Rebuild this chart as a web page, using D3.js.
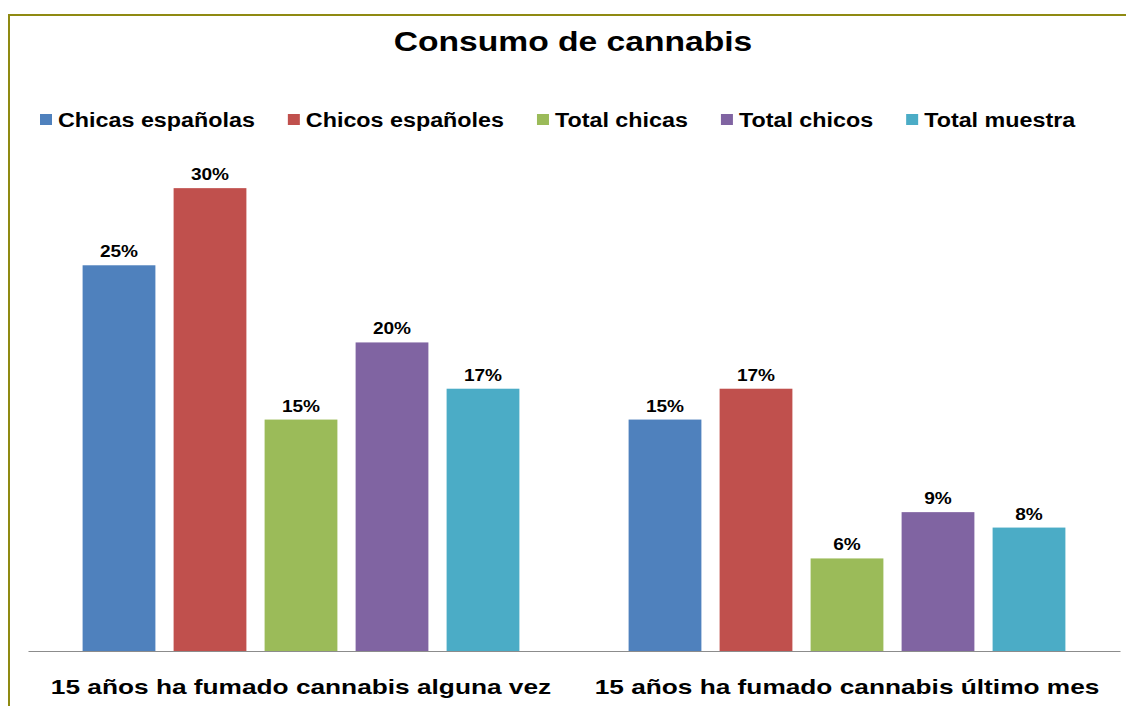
<!DOCTYPE html>
<html>
<head>
<meta charset="utf-8">
<script src="https://d3js.org/d3.v7.min.js"></script>
<style>
body {margin:0; background:#fff;}
text {font-family:"Liberation Sans", Arial, sans-serif; font-weight:bold; fill:#000;}
</style>
</head>
<body>
<svg width=1126 height=706></svg>
<script>
const categories = ["15 años ha fumado cannabis alguna vez", "15 años ha fumado cannabis último mes"];
const series = ["Chicas españolas", "Chicos españoles", "Total chicas", "Total chicos", "Total muestra"];
const colors = ["#4F81BD", "#C0504D", "#9BBB59", "#8064A2", "#4BACC6"];
const alguna = [25, 30, 15, 20, 17];
const ultimo = [15, 17, 6, 9, 8];
const values = [alguna, ultimo];

const svg = d3.select("svg");

// stretch text horizontally, the source picture is wider than normal Arial
function stretch(sel, k) {
    sel.each(function() {
        const w = this.getComputedTextLength();
        d3.select(this).attr("textLength", w * k).attr("lengthAdjust", "spacingAndGlyphs");
    });
    return sel;
}

// frame
svg.append("path")
    .attr("d", "M9,706 V15 H1126")
    .attr("fill", "none")
    .attr("stroke", "#8f8a12")
    .attr("stroke-width", 2);

const x0 = d3.scaleBand()
    .domain(categories)
    .range([28, 1120]);

const x1 = d3.scaleBand()
    .domain(series)
    .range([0, x0.bandwidth()])
    .paddingInner(0.2)
    .paddingOuter(0.6);

const y = d3.scaleLinear()
    .domain([0, 35])
    .range([651, 111]);

const groups = svg.selectAll("g.grp")
    .data(categories)
    .enter().append("g")
    .attr("class", "grp")
    .attr("transform", d => `translate(${x0(d)},0)`);

groups.selectAll("rect")
    .data((d, i) => values[i].map((v, j) => ({s: series[j], v: v, c: colors[j]})))
    .enter().append("rect")
    .attr("x", d => x1(d.s))
    .attr("y", d => y(d.v))
    .attr("width", x1.bandwidth())
    .attr("height", d => y(0) - y(d.v))
    .attr("fill", d => d.c);

stretch(groups.selectAll("text.val")
    .data((d, i) => values[i].map((v, j) => ({s: series[j], v: v})))
    .enter().append("text")
    .attr("class", "val")
    .attr("x", d => x1(d.s) + x1.bandwidth() / 2)
    .attr("y", d => y(d.v) - 8)
    .attr("text-anchor", "middle")
    .style("font-size", "16px")
    .text(d => d.v + "%"), 1.19);

// baseline and category labels
const xAxis = d3.axisBottom(x0).tickSize(0).tickPadding(28);
const ax = svg.append("g")
    .attr("transform", `translate(0,${y(0)})`)
    .call(xAxis);
ax.select(".domain").attr("stroke", "#8c8c8c").attr("stroke-width", 1.2);
stretch(ax.selectAll(".tick text")
    .attr("font-family", null)
    .attr("fill", "#000")
    .style("font-size", "21px"), 1.25);

// title
stretch(svg.append("text")
    .attr("x", 573)
    .attr("y", 51)
    .attr("text-anchor", "middle")
    .style("font-size", "28px")
    .text("Consumo de cannabis"), 1.2);

// legend
const legend = svg.append("g").attr("transform", "translate(40,127)");
let lx = 0;
series.forEach((s, i) => {
    const item = legend.append("g").attr("transform", `translate(${lx},0)`);
    item.append("rect")
        .attr("x", 0).attr("y", -13)
        .attr("width", 12).attr("height", 11)
        .attr("fill", colors[i]);
    const t = item.append("text")
        .attr("x", 18)
        .attr("y", 0)
        .style("font-size", "20px")
        .text(s);
    stretch(t, 1.165);
    lx += 18 + +t.attr("textLength") + 33;
});
</script>
</body>
</html>
